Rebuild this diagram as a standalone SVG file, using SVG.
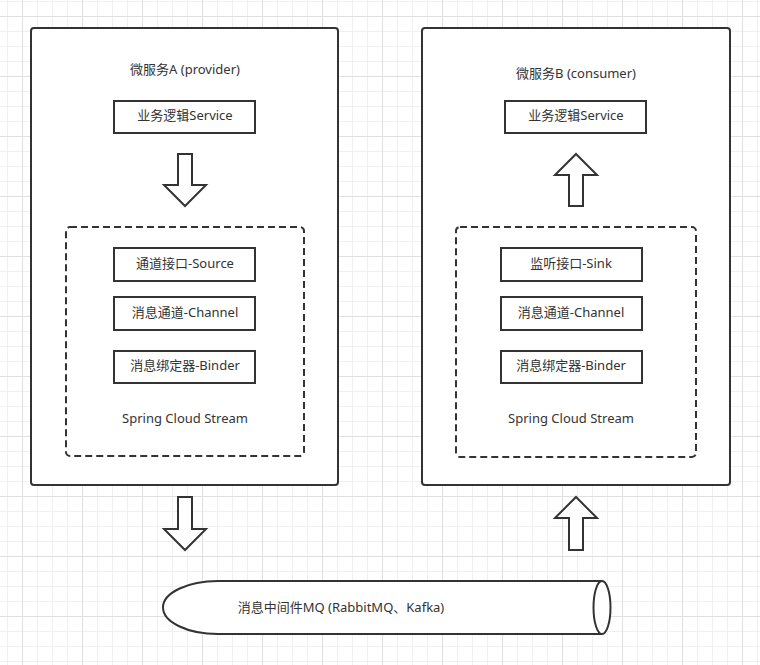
<svg xmlns="http://www.w3.org/2000/svg" width="760" height="665" viewBox="0 0 760 665">
<style>
.box{fill:#fff;stroke:#333;stroke-width:2}
.dash{fill:none;stroke:#333;stroke-width:2;stroke-dasharray:7 4}
.arrow{fill:#fff;stroke:#333;stroke-width:2;stroke-linejoin:miter}
text{font-family:"Noto Sans","Noto Sans CJK SC",sans-serif;font-size:13px;fill:#333;text-anchor:middle;dominant-baseline:central}
</style>
<defs>
<pattern id="grid" x="22" y="16" width="60" height="60" patternUnits="userSpaceOnUse">
<path d="M15.5 0V60M30.5 0V60M45.5 0V60M0 15.5H60M0 30.5H60M0 45.5H60" stroke="#f0f0f0" stroke-width="1" fill="none"/>
<path d="M0.5 0V60M0 0.5H60" stroke="#e0e0e0" stroke-width="1" fill="none"/>
</pattern>
</defs>
<rect width="760" height="665" fill="#fff"/>
<rect width="760" height="665" fill="url(#grid)"/>

<g id="serviceA">
<rect class="box" x="31" y="28" width="307" height="457" rx="3"/>
<text x="185" y="69">微服务A (provider)</text>
</g>
<g id="serviceB">
<rect class="box" x="422" y="28" width="308" height="457" rx="3"/>
<text x="576" y="73">微服务B (consumer)</text>
</g>
<g id="logicA">
<rect class="box" x="114" y="101" width="141" height="32"/>
<text x="185" y="115">业务逻辑Service</text>
</g>
<g id="logicB">
<rect class="box" x="505" y="101" width="141" height="32"/>
<text x="576" y="115">业务逻辑Service</text>
</g>
<g id="streamA">
<rect class="dash" x="66" y="227" width="238" height="229" rx="4"/>
<text x="185" y="418">Spring Cloud Stream</text>
</g>
<g id="streamB">
<rect class="dash" x="456" y="227" width="240" height="230" rx="4"/>
<text x="571" y="418">Spring Cloud Stream</text>
</g>
<g id="sourceA">
<rect class="box" x="114" y="248" width="141" height="33"/>
<text x="185" y="263">通道接口-Source</text>
</g>
<g id="channelA">
<rect class="box" x="114" y="297" width="141" height="33"/>
<text x="185" y="312">消息通道-Channel</text>
</g>
<g id="binderA">
<rect class="box" x="114" y="351" width="141" height="32"/>
<text x="185" y="365">消息绑定器-Binder</text>
</g>
<g id="sinkB">
<rect class="box" x="501" y="248" width="141" height="33"/>
<text x="571" y="263">监听接口-Sink</text>
</g>
<g id="channelB">
<rect class="box" x="501" y="297" width="141" height="33"/>
<text x="571" y="312">消息通道-Channel</text>
</g>
<g id="binderB">
<rect class="box" x="501" y="351" width="141" height="32"/>
<text x="571" y="365">消息绑定器-Binder</text>
</g>
<g id="mq">
<path class="box" d="M602 581H218A55 26.5 0 0 0 218 634H602"/>
<ellipse class="box" cx="602" cy="607.5" rx="8.5" ry="26.5"/>
<text x="341" y="607">消息中间件MQ (RabbitMQ、Kafka)</text>
</g>
<g id="connectors">
<polygon class="arrow" points="178,154 192,154 192,185 206,185 185,206 164,185 178,185"/>
<polygon class="arrow" points="576,154 597,175 583,175 583,206 569,206 569,175 555,175"/>
<polygon class="arrow" points="178,497 192,497 192,529 206,529 185,550 164,529 178,529"/>
<polygon class="arrow" points="576,497 597,518 583,518 583,550 569,550 569,518 555,518"/>
</g>
</svg>
